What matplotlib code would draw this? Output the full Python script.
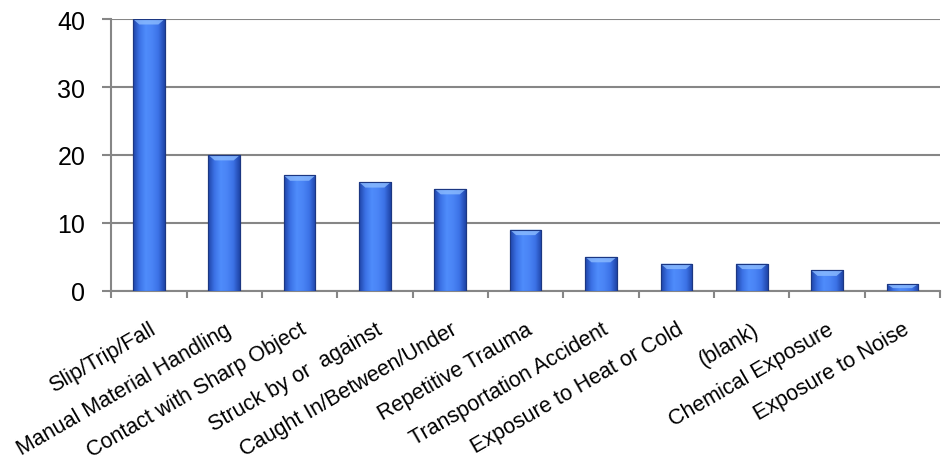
import numpy as np
import matplotlib
matplotlib.use('Agg')
import matplotlib.pyplot as plt
from matplotlib.colors import LinearSegmentedColormap

# dane z wykresu
kategorie = ['Slip/Trip/Fall', 'Manual Material Handling', 'Contact with Sharp Object',
             'Struck by or  against', 'Caught In/Between/Under', 'Repetitive Trauma',
             'Transportation Accident', 'Exposure to Heat or Cold', '(blank)',
             'Chemical Exposure', 'Exposure to Noise']
wartosci = [40, 20, 17, 16, 15, 9, 5, 4, 4, 3, 1]
y_ticks = [0, 10, 20, 30, 40]

plt.rcParams['font.family'] = ['Liberation Sans', 'DejaVu Sans']
szary = '#868686'

fig = plt.figure(figsize=(9.42, 4.56), dpi=100)
ax = fig.add_axes([0.118, 0.36, 0.880, 0.596])

x = np.arange(len(kategorie))
slupki = ax.bar(x, wartosci, width=0.42, color='#3f74e4', edgecolor='#1c3782',
                linewidth=0.8, zorder=3)

# gradient w poziomie - efekt wypuklosci
cmap = LinearSegmentedColormap.from_list('bev', ['#1f45a8', '#3c72e6', '#4f8cfb',
                                                 '#4a84f5', '#3c72e6', '#1f45a8'])
grad = np.linspace(0, 1, 64).reshape(1, -1)
for p in slupki:
    bx, bw, bh = p.get_x(), p.get_width(), p.get_height()
    im = ax.imshow(grad, cmap=cmap, aspect='auto', extent=[bx, bx + bw, 0, bh],
                   zorder=3.5, interpolation='bilinear')
    im.set_clip_path(p)
    # jasny pasek na gorze
    h = min(0.8, bh * 0.6)
    ax.fill([bx, bx + bw, bx + bw * 0.8, bx + bw * 0.2], [bh, bh, bh - h, bh - h],
            color='#8cbcff', alpha=0.8, zorder=3.6, lw=0)
    ax.bar(bx + bw / 2, bh, width=bw, fill=False, edgecolor='#1c3782',
           linewidth=0.8, zorder=3.7)

ax.set_xlim(-0.5, len(kategorie) - 0.5)
ax.set_ylim(0, 40)
ax.set_yticks(y_ticks)
ax.yaxis.grid(True, color=szary, linewidth=1.5, zorder=0)
ax.set_axisbelow(True)

for s in ['top', 'right']:
    ax.spines[s].set_visible(False)
for s in ['left', 'bottom']:
    ax.spines[s].set_color(szary)
    ax.spines[s].set_linewidth(1.5)

ax.tick_params(axis='y', length=6.5, width=1.5, color=szary, pad=12, labelsize=18)
ax.set_xticks(x)
ax.set_xticklabels(kategorie, rotation=30, ha='right', rotation_mode='anchor',
                   fontsize=15.5)
ax.tick_params(axis='x', length=0, pad=20)
ax.set_xticks(np.arange(len(kategorie) + 1) - 0.5, minor=True)
ax.tick_params(axis='x', which='minor', length=5, width=1.5, color=szary)

fig.savefig('out.png', dpi=100)
